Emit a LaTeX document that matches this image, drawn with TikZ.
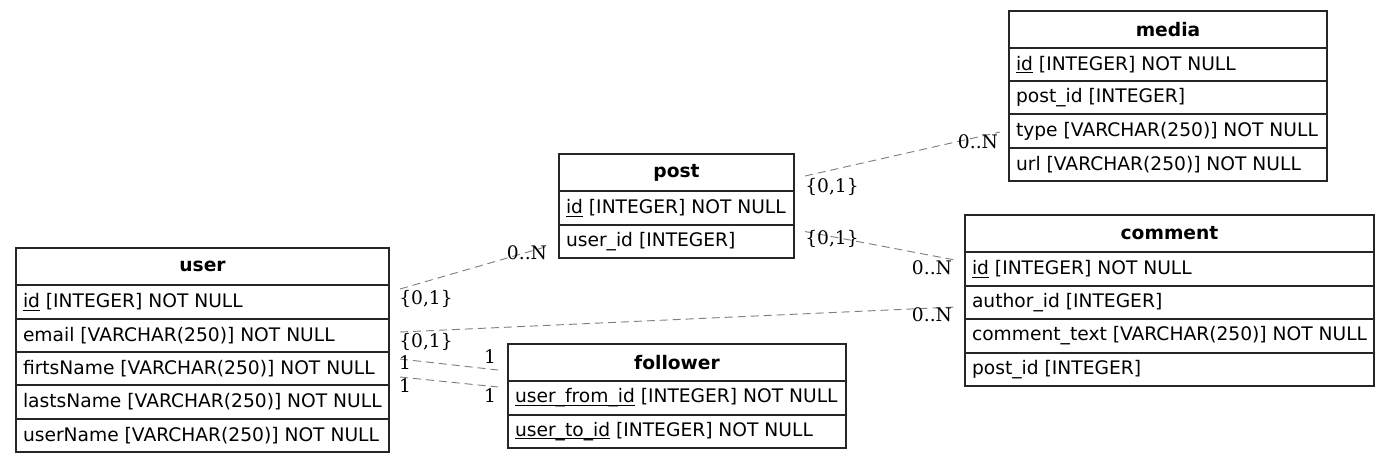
\documentclass[tikz,border=0pt]{standalone}
\usepackage{fontspec}
\setmainfont{DejaVu Sans}
\newfontfamily\lblfont{DejaVu Serif}
\usetikzlibrary{calc}
\newcommand\keyul[1]{\setbox0\hbox{#1}\rlap{\rule[-2pt]{\wd0}{0.6pt}}\box0\relax}
\newcommand\trow[6]{% name, x, ytop, ybot, width, text
  \pgfmathsetlengthmacro\rowh{(#4-#3)*0.75pt}%
  \pgfmathsetlengthmacro\rowwd{(#5-14)*0.75pt}%
  \pgfmathsetlengthmacro\roww{#5*0.75pt}%
  \node[cell, minimum height=\rowh, minimum width=\roww] (#1) at (#2,#3) {\makebox[\rowwd][l]{#6}};}
\newcommand\thead[6]{% name, x, ytop, ybot, width, text
  \pgfmathsetlengthmacro\rowh{(#4-#3)*0.75pt}%
  \pgfmathsetlengthmacro\roww{#5*0.75pt}%
  \node[cell, minimum height=\rowh, minimum width=\roww, inner xsep=0pt] (#1) at (#2,#3) {\makebox[\roww][c]{\bfseries #6}};}
\begin{document}
\begin{tikzpicture}[x=0.75pt,y=-0.75pt,
  cell/.style={anchor=north west, inner ysep=0pt, inner xsep=5.25pt, outer sep=0pt,
    font=\fontsize{14}{16}\selectfont},
  tbl/.style={draw=black!85, line width=1pt},
  sep/.style={draw=black!85, line width=1pt},
  rel/.style={draw=black!50, line width=0.7pt, dash pattern=on 6pt off 3.75pt},
  lbl/.style={inner sep=0pt, font=\fontsize{14}{16}\selectfont\lblfont}
]
\useasboundingbox (0,0) rectangle (1389,462);

% user
\thead{uh}{16}{248}{285}{373}{user}
\trow{uid}{16}{285}{319}{373}{\keyul{id} [INTEGER] NOT NULL}
\trow{uemail}{16}{319}{352}{373}{email [VARCHAR(250)] NOT NULL}
\trow{ufirst}{16}{352}{385}{373}{firtsName [VARCHAR(250)] NOT NULL}
\trow{ulast}{16}{385}{419}{373}{lastsName [VARCHAR(250)] NOT NULL}
\trow{uname}{16}{419}{452}{373}{userName [VARCHAR(250)] NOT NULL}
\draw[tbl] (uh.north west) rectangle (uname.south east);
\foreach \n in {uh,uid,uemail,ufirst,ulast} \draw[sep] (\n.south west) -- (\n.south east);

% post
\thead{ph}{559}{154}{191}{235}{post}
\trow{pid}{559}{191}{225}{235}{\keyul{id} [INTEGER] NOT NULL}
\trow{puser}{559}{225}{258}{235}{user\_id [INTEGER]}
\draw[tbl] (ph.north west) rectangle (puser.south east);
\foreach \n in {ph,pid} \draw[sep] (\n.south west) -- (\n.south east);

% media
\thead{mh}{1009}{11}{48}{318}{media}
\trow{mid}{1009}{48}{81}{318}{\keyul{id} [INTEGER] NOT NULL}
\trow{mpost}{1009}{81}{114}{318}{post\_id [INTEGER]}
\trow{mtype}{1009}{114}{148}{318}{type [VARCHAR(250)] NOT NULL}
\trow{murl}{1009}{148}{181}{318}{url [VARCHAR(250)] NOT NULL}
\draw[tbl] (mh.north west) rectangle (murl.south east);
\foreach \n in {mh,mid,mpost,mtype} \draw[sep] (\n.south west) -- (\n.south east);

% comment
\thead{ch}{965}{215}{252}{409}{comment}
\trow{cid}{965}{252}{286}{409}{\keyul{id} [INTEGER] NOT NULL}
\trow{cauthor}{965}{286}{319}{409}{author\_id [INTEGER]}
\trow{ctext}{965}{319}{353}{409}{comment\_text [VARCHAR(250)] NOT NULL}
\trow{cpost}{965}{353}{386}{409}{post\_id [INTEGER]}
\draw[tbl] (ch.north west) rectangle (cpost.south east);
\foreach \n in {ch,cid,cauthor,ctext} \draw[sep] (\n.south west) -- (\n.south east);

% follower
\thead{fh}{508}{344}{381}{338}{follower}
\trow{ffrom}{508}{381}{415}{338}{\keyul{user\_from\_id} [INTEGER] NOT NULL}
\trow{fto}{508}{415}{448}{338}{\keyul{user\_to\_id} [INTEGER] NOT NULL}
\draw[tbl] (fh.north west) rectangle (fto.south east);
\foreach \n in {fh,ffrom} \draw[sep] (\n.south west) -- (\n.south east);

% relations
\draw[rel] ($(uid.east)+(11,-13)$) -- ($(puser.west)+(-12,5)$);
\draw[rel] ($(ph.east)+(11,3.5)$) -- ($(mtype.west)+(-9,1)$);
\draw[rel] ($(puser.east)+(11,-10)$) -- ($(cid.west)+(-10,-9)$);
\draw[rel] ($(uemail.east)+(11,-3.5)$) -- ($(cauthor.west)+(-10,4.5)$);
\draw[rel] ($(ufirst.east)+(11,-9.5)$) -- ($(fh.west)+(-10,7.5)$);
\draw[rel] ($(ufirst.east)+(11,8.5)$) -- ($(ffrom.west)+(-10,-11)$);

% labels
\node[lbl] (l1a) at (426,299) {\{0,1\}};
\node[lbl] (l1b) at (527,253) {0..N};
\node[lbl] (l2a) at (832,187) {\{0,1\}};
\node[lbl] (l2b) at (978,142) {0..N};
\node[lbl] (l3a) at (832,239) {\{0,1\}};
\node[lbl] (l3b) at (932,268) {0..N};
\node[lbl] (l4a) at (426,342) {\{0,1\}};
\node[lbl] (l4b) at (932,315) {0..N};
\node[lbl] (l5a) at (405,363) {1};
\node[lbl] (l5b) at (490,357) {1};
\node[lbl] (l6a) at (405,386) {1};
\node[lbl] (l6b) at (490,396) {1};
\end{tikzpicture}
\end{document}
